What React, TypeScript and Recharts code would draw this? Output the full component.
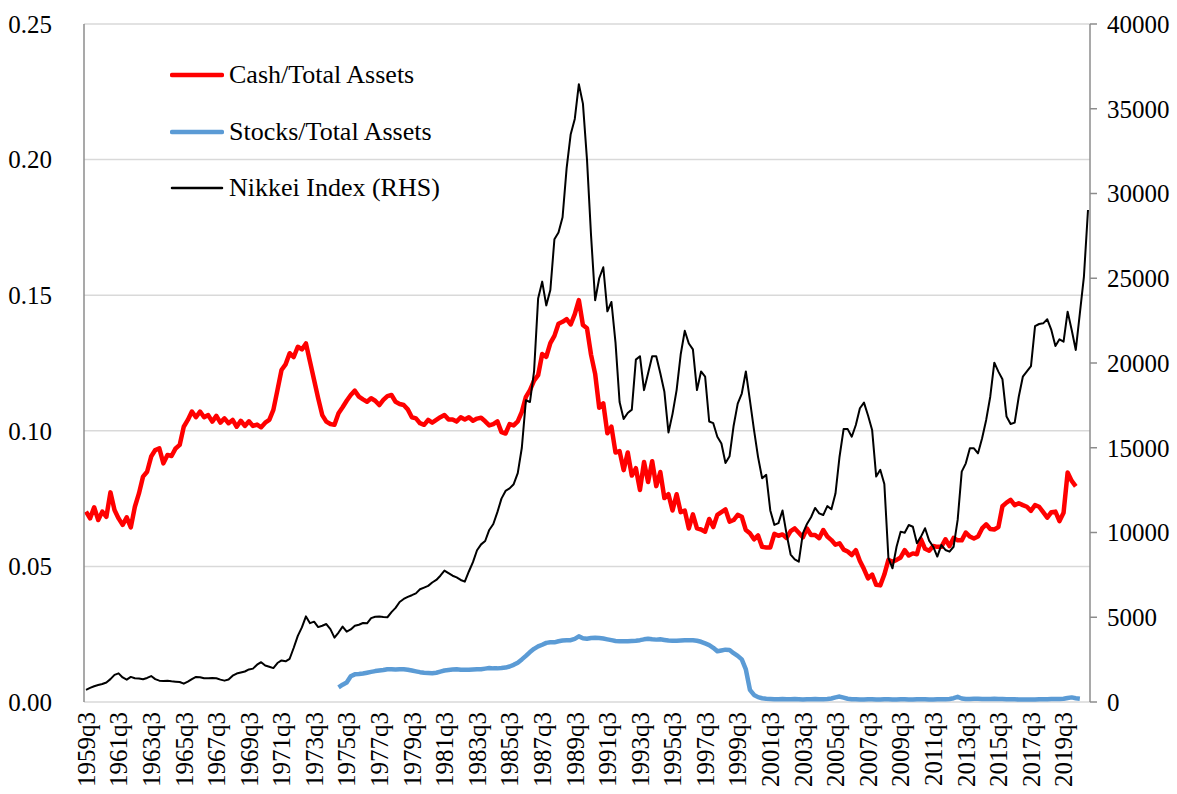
import React from 'react';
import { LineChart, Line, XAxis, YAxis, CartesianGrid, Legend } from 'recharts';

const FONT = '"Liberation Serif", "Times New Roman", serif';

// Quarterly categories 1959q3 .. 2021q1
const firstYear = 1959;
const firstQuarter = 3;
const quarterCount = 247;
const quarters: string[] = [];
for (let k = 0; k < quarterCount; k++) {
  const q = firstQuarter - 1 + k;
  quarters.push(`${firstYear + Math.floor(q / 4)}q${(q % 4) + 1}`);
}

const leftTicks = [0, 0.05, 0.1, 0.15, 0.2, 0.25];
const rightTicks = [0, 5000, 10000, 15000, 20000, 25000, 30000, 35000, 40000];

// Cash / Total Assets (from 1959q3)
const cashRatio = [
  0.0702, 0.0677, 0.0718, 0.0671, 0.0702, 0.0683, 0.0773, 0.0708, 0.0677, 0.0653,
  0.0681, 0.0644, 0.0720, 0.0769, 0.0831, 0.0849, 0.0905, 0.0929, 0.0935, 0.0880,
  0.0911, 0.0907, 0.0935, 0.0948, 0.1015, 0.1040, 0.1071, 0.1050, 0.1071, 0.1050,
  0.1058, 0.1034, 0.1055, 0.1030, 0.1046, 0.1028, 0.1040, 0.1015, 0.1037, 0.1018,
  0.1035, 0.1018, 0.1023, 0.1013, 0.1030, 0.1040, 0.1077, 0.1150, 0.1224, 0.1245,
  0.1286, 0.1272, 0.1310, 0.1300, 0.1322, 0.1255, 0.1187, 0.1120, 0.1058, 0.1034,
  0.1025, 0.1022, 0.1065, 0.1087, 0.1111, 0.1132, 0.1148, 0.1126, 0.1116, 0.1107,
  0.1120, 0.1111, 0.1095, 0.1114, 0.1128, 0.1132, 0.1107, 0.1099, 0.1095, 0.1079,
  0.1050, 0.1046, 0.1028, 0.1022, 0.1040, 0.1030, 0.1040, 0.1050, 0.1058, 0.1042,
  0.1042, 0.1034, 0.1050, 0.1042, 0.1050, 0.1037, 0.1045, 0.1048, 0.1035, 0.1020,
  0.1025, 0.1035, 0.0995, 0.0990, 0.1025, 0.1020, 0.1035, 0.1070, 0.1125, 0.1150,
  0.1185, 0.1205, 0.1283, 0.1273, 0.1323, 0.1350, 0.1395, 0.1402, 0.1412, 0.1392,
  0.1430, 0.1482, 0.1390, 0.1378, 0.1280, 0.1210, 0.1085, 0.1101, 0.0991, 0.1015,
  0.0920, 0.0925, 0.0855, 0.0920, 0.0835, 0.0862, 0.0782, 0.0885, 0.0811, 0.0888,
  0.0796, 0.0848, 0.0752, 0.0766, 0.0706, 0.0766, 0.0700, 0.0706, 0.0640, 0.0692,
  0.0640, 0.0636, 0.0628, 0.0675, 0.0645, 0.0690, 0.0700, 0.0710, 0.0665, 0.0671,
  0.0690, 0.0683, 0.0634, 0.0622, 0.0600, 0.0614, 0.0572, 0.0570, 0.0570, 0.0620,
  0.0613, 0.0618, 0.0605, 0.0630, 0.0640, 0.0624, 0.0607, 0.0640, 0.0616, 0.0616,
  0.0604, 0.0634, 0.0610, 0.0597, 0.0580, 0.0585, 0.0562, 0.0555, 0.0542, 0.0560,
  0.0520, 0.0490, 0.0456, 0.0470, 0.0432, 0.0430, 0.0470, 0.0524, 0.0517, 0.0524,
  0.0533, 0.0560, 0.0540, 0.0548, 0.0545, 0.0600, 0.0565, 0.0558, 0.0575, 0.0572,
  0.0572, 0.0600, 0.0575, 0.0605, 0.0596, 0.0596, 0.0625, 0.0610, 0.0603, 0.0610,
  0.0640, 0.0655, 0.0638, 0.0636, 0.0645, 0.0722, 0.0735, 0.0745, 0.0726, 0.0733,
  0.0726, 0.0720, 0.0705, 0.0726, 0.0720, 0.0700, 0.0680, 0.0700, 0.0702, 0.0667,
  0.0698, 0.0846, 0.0815, 0.0795,
];

// Stocks / Total Assets (from 1975q1)
const stocksFirstQuarter = '1975q1';
const stocksRatio = [
  0.0054, 0.0064, 0.0072, 0.0095, 0.0102, 0.0103, 0.0105, 0.0108,
  0.0111, 0.0114, 0.0116, 0.0118, 0.0121, 0.0121, 0.0120, 0.0121, 0.0121, 0.0119,
  0.0116, 0.0113, 0.0110, 0.0108, 0.0107, 0.0106, 0.0108, 0.0112, 0.0116, 0.0118,
  0.0120, 0.0121, 0.0119, 0.0119, 0.0119, 0.0120, 0.0121, 0.0121, 0.0123, 0.0125,
  0.0124, 0.0124, 0.0125, 0.0127, 0.0131, 0.0137, 0.0145, 0.0157, 0.0170, 0.0184,
  0.0196, 0.0205, 0.0211, 0.0218, 0.0220, 0.0220, 0.0224, 0.0227, 0.0228, 0.0228,
  0.0233, 0.0242, 0.0235, 0.0233, 0.0236, 0.0237, 0.0236, 0.0234, 0.0231, 0.0228,
  0.0225, 0.0224, 0.0224, 0.0224, 0.0225, 0.0226, 0.0228, 0.0231, 0.0233, 0.0231,
  0.0230, 0.0231, 0.0229, 0.0227, 0.0226, 0.0226, 0.0227, 0.0228, 0.0228, 0.0228,
  0.0226, 0.0222, 0.0216, 0.0210, 0.0200, 0.0187, 0.0190, 0.0193, 0.0192, 0.0180,
  0.0170, 0.0157, 0.0120, 0.0045, 0.0026, 0.0018, 0.0014, 0.0012, 0.0011, 0.0010,
  0.0010, 0.0011, 0.0010, 0.0010, 0.0011, 0.0010, 0.0009, 0.0010, 0.0010, 0.0011,
  0.0010, 0.0010, 0.0011, 0.0013, 0.0017, 0.0020, 0.0016, 0.0012, 0.0010, 0.0010,
  0.0009, 0.0009, 0.0010, 0.0010, 0.0009, 0.0009, 0.0010, 0.0010, 0.0009, 0.0009,
  0.0010, 0.0010, 0.0009, 0.0009, 0.0010, 0.0010, 0.0010, 0.0009, 0.0009, 0.0010,
  0.0010, 0.0010, 0.0011, 0.0014, 0.0019, 0.0013, 0.0011, 0.0011, 0.0012, 0.0012,
  0.0011, 0.0011, 0.0011, 0.0012, 0.0011, 0.0011, 0.0010, 0.0010, 0.0010, 0.0009,
  0.0009, 0.0009, 0.0009, 0.0009, 0.0010, 0.0010, 0.0010, 0.0011, 0.0011, 0.0011,
  0.0012, 0.0015, 0.0017, 0.0014, 0.0012,
];

// Nikkei index, quarterly average (from 1959q3)
const nikkeiIndex = [
  720, 830, 930, 1000, 1062, 1150, 1350, 1600, 1690, 1450,
  1320, 1480, 1400, 1380, 1340, 1420, 1530, 1350, 1260, 1240,
  1250, 1220, 1200, 1180, 1080, 1200, 1350, 1480, 1460, 1400,
  1400, 1410, 1400, 1320, 1260, 1330, 1550, 1680, 1740, 1800,
  1920, 1970, 2200, 2350, 2150, 2080, 2000, 2300, 2450, 2400,
  2550, 3200, 3900, 4400, 5050, 4650, 4740, 4420, 4500, 4600,
  4300, 3800, 4100, 4450, 4150, 4280, 4500, 4560, 4660, 4640,
  4950, 5030, 5050, 5020, 5000, 5300, 5550, 5900, 6080, 6200,
  6300, 6410, 6650, 6750, 6850, 7050, 7200, 7450, 7750, 7600,
  7450, 7350, 7200, 7100, 7700, 8250, 8950, 9300, 9500, 10150,
  10500, 11200, 12000, 12450, 12600, 12850, 13500, 15000, 17800, 17700,
  19500, 23800, 24800, 23400, 24300, 27300, 27700, 28600, 31500, 33500,
  34400, 36450, 35300, 32000, 27500, 23700, 25000, 25650, 23050, 23600,
  21200, 17700, 16700, 17050, 17250, 20200, 20400, 18400, 19400, 20400,
  20400, 19400, 18300, 15900, 17000, 18400, 20500, 21900, 21150, 20800,
  18400, 19500, 19200, 16550, 16450, 15650, 15250, 14100, 14500, 16300,
  17600, 18200, 19500, 17800, 16050, 14450, 13200, 13400, 11300, 10450,
  10550, 11300, 9900, 8700, 8420, 8280, 9950, 10500, 10900, 11450,
  11130, 11030, 11560, 11370, 12300, 14470, 16100, 16100, 15650, 16340,
  17330, 17660, 16900, 16050, 13300, 13700, 12860, 8500, 7890, 9160,
  10050, 9990, 10440, 10340, 9360, 9760, 10250, 9520, 9160, 8580,
  9260, 8970, 8870, 9160, 10740, 13590, 14080, 14970, 14970, 14670,
  15560, 16640, 18010, 20020, 19490, 19040, 16840, 16400, 16480, 18010,
  19190, 19500, 19820, 22180, 22300, 22340, 22580, 21950, 21000, 21400,
  21260, 23030, 21950, 20770, 22930, 25100, 29030,
];

const stocksOffset = quarters.indexOf(stocksFirstQuarter);
const data = quarters.map((q, i) => ({
  q,
  cash: i < cashRatio.length ? cashRatio[i] : null,
  stocks:
    i >= stocksOffset && i - stocksOffset < stocksRatio.length ? stocksRatio[i - stocksOffset] : null,
  nikkei: i < nikkeiIndex.length ? nikkeiIndex[i] : null,
}));

const QuarterTick = (props: any) => {
  const { x, y, payload } = props;
  return (
    <text
      x={x}
      y={y}
      transform={`rotate(-90, ${x}, ${y})`}
      textAnchor="end"
      dy="0.35em"
      fontFamily={FONT}
      fontSize={25}
      fill="#000"
    >
      {payload.value}
    </text>
  );
};

const legendOrder = ['cash', 'stocks', 'nikkei'];
const legendWidths: Record<string, number> = { cash: 4.5, stocks: 4.5, nikkei: 2.5 };

const renderLegend = (props: any) => {
  const payload = [...(props.payload || [])].sort(
    (a: any, b: any) => legendOrder.indexOf(a.dataKey) - legendOrder.indexOf(b.dataKey)
  );
  return (
    <div style={{ position: 'relative', width: 340, height: 150 }}>
      {payload.map((entry: any, k: number) => (
        <div
          key={k}
          style={{
            position: 'absolute',
            left: 0,
            top: k * 56.5,
            height: 36,
            display: 'flex',
            alignItems: 'center',
          }}
        >
          <svg width={54} height={10} style={{ display: 'block' }}>
            <line
              x1={2}
              x2={52}
              y1={5}
              y2={5}
              stroke={entry.color}
              strokeWidth={legendWidths[entry.dataKey] || 3}
              strokeLinecap="round"
            />
          </svg>
          <span
            style={{
              marginLeft: 5,
              fontFamily: FONT,
              fontSize: 26,
              color: '#000',
              whiteSpace: 'nowrap',
              lineHeight: '36px',
            }}
          >
            {entry.value}
          </span>
        </div>
      ))}
    </div>
  );
};

export default function App() {
  return (
    <div style={{ position: 'absolute', left: 0, top: 0, background: '#fff' }}>
      <LineChart
        width={1177}
        height={794}
        data={data}
        margin={{ top: 24, right: 0, bottom: 0, left: 0 }}
      >
        <CartesianGrid
          yAxisId="left"
          vertical={false}
          stroke="#d9d9d9"
          strokeWidth={1.5}
        />
        <XAxis
          dataKey="q"
          interval={7}
          height={92}
          padding={{ left: 2, right: 2 }}
          axisLine={false}
          tickLine={false}
          tickSize={0}
          tickMargin={10}
          tick={<QuarterTick />}
        />
        <YAxis
          yAxisId="left"
          width={84}
          domain={[0, 0.25]}
          ticks={leftTicks}
          tickFormatter={(v: number) => v.toFixed(2)}
          axisLine={{ stroke: '#8c8c8c', strokeWidth: 1.5 }}
          tickLine={false}
          tickSize={0}
          tickMargin={32}
          tick={{ fontFamily: FONT, fontSize: 25, fill: '#000' }}
        />
        <YAxis
          yAxisId="right"
          orientation="right"
          width={87}
          domain={[0, 40000]}
          ticks={rightTicks}
          axisLine={{ stroke: '#8c8c8c', strokeWidth: 1.5 }}
          tickLine={{ stroke: '#8c8c8c', strokeWidth: 1.5 }}
          tickSize={7}
          tickMargin={10}
          tick={{ fontFamily: FONT, fontSize: 25, fill: '#000' }}
        />
        <Legend
          layout="vertical"
          align="center"
          verticalAlign="middle"
          content={renderLegend}
          wrapperStyle={{ left: 170, top: 57, width: 340, height: 150 }}
        />
        <Line
          yAxisId="left"
          dataKey="cash"
          name="Cash/Total Assets"
          stroke="#ff0000"
          strokeWidth={4.5}
          dot={false}
          activeDot={false}
          strokeLinejoin="round"
          isAnimationActive={false}
        />
        <Line
          yAxisId="left"
          dataKey="stocks"
          name="Stocks/Total Assets"
          stroke="#5b9bd5"
          strokeWidth={4.5}
          dot={false}
          activeDot={false}
          strokeLinejoin="round"
          isAnimationActive={false}
        />
        <Line
          yAxisId="right"
          dataKey="nikkei"
          name="Nikkei Index (RHS)"
          stroke="#000000"
          strokeWidth={2}
          dot={false}
          activeDot={false}
          strokeLinejoin="round"
          isAnimationActive={false}
        />
      </LineChart>
    </div>
  );
}
